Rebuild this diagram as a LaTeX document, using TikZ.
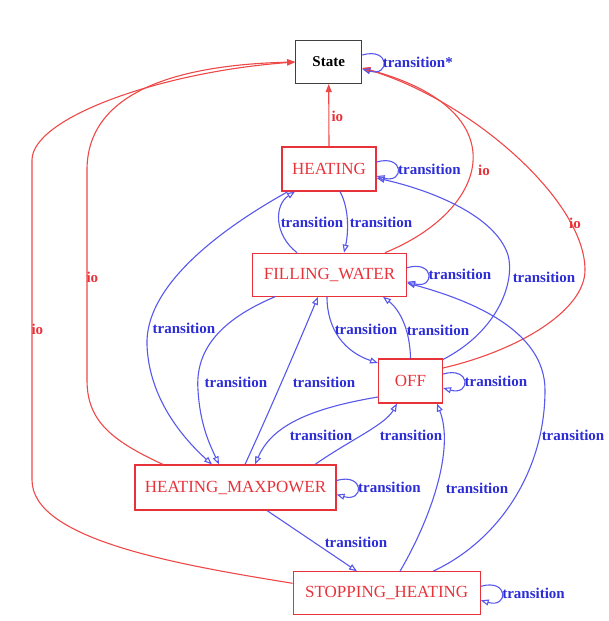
\documentclass[tikz,border=0pt]{standalone}
\usepackage{fontspec}
\setmainfont{Liberation Serif}
\usetikzlibrary{arrows.meta,calc}
\definecolor{nodered}{RGB}{232,50,58}
\definecolor{iored}{RGB}{238,72,72}
\definecolor{trblue}{RGB}{88,88,236}
\definecolor{lblblue}{RGB}{45,45,215}
\begin{document}
\begin{tikzpicture}[x=1pt,y=-1pt,
  statebox/.style={draw=nodered,line width=1.1pt,text=nodered,inner sep=0pt,
    font=\fontsize{17}{20}\selectfont},
  rootbox/.style={draw=black!75,line width=1.1pt,text=black,inner sep=0pt,
    font=\bfseries\fontsize{15}{18}\selectfont},
  tr/.style={draw=trblue,line width=1.1pt,-{Triangle[open,length=8pt,width=6pt]}},
  io/.style={draw=iored,line width=1.1pt,-{Triangle[length=8pt,width=6pt]}},
  lbl/.style={text=lblblue,inner sep=0pt,font=\bfseries\fontsize{15}{18}\selectfont},
  iolbl/.style={text=nodered,inner sep=0pt,font=\bfseries\fontsize{15}{18}\selectfont}]
\useasboundingbox (0,0) rectangle (608,621);

% nodes
\node[rootbox,minimum width=66pt,minimum height=43pt] (S) at (328.7,62) {State};
\node[statebox,minimum width=94pt,minimum height=44pt] (H) at (329,169) {HEATING};
\node[statebox,minimum width=154pt,minimum height=43pt] (FW) at (329.5,274.7) {FILLING\_WATER};
\node[statebox,minimum width=64pt,minimum height=44pt] (OFF) at (410.5,381) {OFF};
\node[statebox,minimum width=201pt,minimum height=45pt] (HM) at (235.5,487.5) {HEATING\_MAXPOWER};
\node[statebox,minimum width=187pt,minimum height=43pt] (SH) at (386.7,593.3) {STOPPING\_HEATING};

% io edges
\draw[io] (H.north) -- (S.south) node[iolbl,anchor=west] at (331,116) {io};
\draw[io] ($(FW.north)+(55.5,0)$) .. controls (490,210) and (520,110) .. ($(S.east)+(0,6)$)
  node[iolbl] at (484,170) {io};
\draw[io] ($(OFF.east)+(0,-13)$) .. controls (520,350) and (585,310) .. (585,270)
  .. controls (585,200) and (470,100) .. ($(S.east)+(0,6)$)
  node[iolbl] at (575,223) {io};
\draw[io] ($(HM.north)+(-72.5,0)$) .. controls (110,440) and (87,420) .. (87,380) -- (87,170)
  .. controls (87,95) and (170,65) .. (S.west)
  node[iolbl,anchor=west] at (86,277) {io};
\draw[io] ($(SH.west)+(0,-10)$) .. controls (180,565) and (32,540) .. (32,480) -- (32,160)
  .. controls (32,118) and (160,72) .. (S.west)
  node[iolbl,anchor=west] at (31,329) {io};

% self loops
\draw[tr] ($(S.east)+(0,-7)$) .. controls ($(S.east)+(28,-15)$) and ($(S.east)+(28,15)$) .. ($(S.east)+(0,7)$)
  node[lbl,anchor=west] at ($(S.east)+(20,0)$) {transition*};
\draw[tr] ($(H.east)+(0,-7)$) .. controls ($(H.east)+(28,-15)$) and ($(H.east)+(28,15)$) .. ($(H.east)+(0,7)$)
  node[lbl,anchor=west] at ($(H.east)+(21,0)$) {transition};
\draw[tr] ($(FW.east)+(0,-7)$) .. controls ($(FW.east)+(28,-15)$) and ($(FW.east)+(28,15)$) .. ($(FW.east)+(0,7)$)
  node[lbl,anchor=west] at ($(FW.east)+(21,0)$) {transition};
\draw[tr] ($(OFF.east)+(0,-7)$) .. controls ($(OFF.east)+(28,-15)$) and ($(OFF.east)+(28,15)$) .. ($(OFF.east)+(0,7)$)
  node[lbl,anchor=west] at ($(OFF.east)+(21,0)$) {transition};
\draw[tr] ($(HM.east)+(0,-7)$) .. controls ($(HM.east)+(28,-15)$) and ($(HM.east)+(28,15)$) .. ($(HM.east)+(0,7)$)
  node[lbl,anchor=west] at ($(HM.east)+(21,0)$) {transition};
\draw[tr] ($(SH.east)+(0,-7)$) .. controls ($(SH.east)+(28,-15)$) and ($(SH.east)+(28,15)$) .. ($(SH.east)+(0,7)$)
  node[lbl,anchor=west] at ($(SH.east)+(21,0)$) {transition};

% transitions
\draw[tr] ($(H.south)+(11,0)$) .. controls (350,210) and (348,235) .. ($(FW.north)+(14.5,0)$)
  node[lbl] at (381,222) {transition};
\draw[tr] ($(FW.north)+(-32.5,0)$) .. controls (274,235) and (274,205) .. ($(H.south)+(-34,0)$)
  node[lbl] at (312,222) {transition};
\draw[tr] ($(H.south)+(-41,0)$) .. controls (210,235) and (145,290) .. (147,345)
  .. controls (149,400) and (185,440) .. ($(HM.north)+(-23.5,0)$)
  node[lbl] at (184,328) {transition};
\draw[tr] ($(OFF.north east)+(0,1)$) .. controls (500,330) and (515,280) .. (508,255)
  .. controls (495,215) and (430,190) .. ($(H.east)+(0,9)$)
  node[lbl] at (544,277) {transition};
\draw[tr] ($(FW.south)+(-54.5,0)$) .. controls (220,320) and (195,350) .. (198,390)
  .. controls (200,425) and (210,445) .. ($(HM.north)+(-16.5,0)$)
  node[lbl] at (236,382) {transition};
\draw[tr] ($(HM.north)+(9.5,0)$) .. controls (270,410) and (300,340) .. ($(FW.south)+(-11.5,0)$)
  node[lbl] at (324,382) {transition};
\draw[tr] ($(FW.south)+(-2.5,0)$) .. controls (327,330) and (345,352) .. ($(OFF.west)+(0,-18)$)
  node[lbl] at (366,329) {transition};
\draw[tr] (OFF.north) .. controls (410,330) and (400,310) .. ($(FW.south)+(53.5,0)$)
  node[lbl] at (438,330) {transition};
\draw[tr] ($(OFF.west)+(0,16)$) .. controls (300,410) and (270,430) .. ($(HM.north)+(19.5,0)$)
  node[lbl] at (321,435) {transition};
\draw[tr] ($(HM.north)+(79.5,0)$) .. controls (350,440) and (385,425) .. ($(OFF.south)+(-13.5,0)$)
  node[lbl] at (411,435) {transition};
\draw[tr] ($(HM.south)+(31.5,0)$) -- ($(SH.north)+(-29.7,0)$)
  node[lbl] at (356,542) {transition};
\draw[tr] ($(SH.north)+(13.3,0)$) .. controls (430,520) and (455,450) .. ($(OFF.south)+(26.5,0)$)
  node[lbl] at (477,488) {transition};
\draw[tr] ($(SH.north)+(46.3,0)$) .. controls (500,540) and (545,470) .. (545,390)
  .. controls (545,330) and (470,300) .. ($(FW.east)+(0,8.3)$)
  node[lbl] at (573,435) {transition};
\end{tikzpicture}
\end{document}
